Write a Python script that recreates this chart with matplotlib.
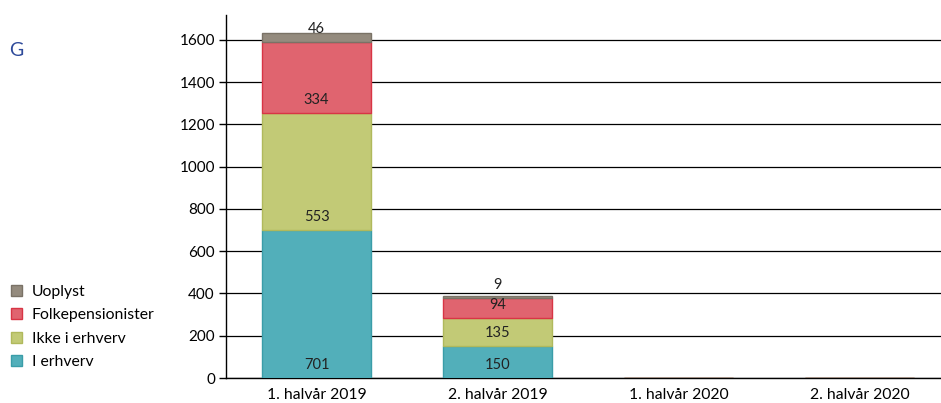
import matplotlib.pyplot as plt
from matplotlib.patches import Patch

plt.rcParams['font.family'] = ['Lato', 'DejaVu Sans']

categories = ["1. halvår 2019", "2. halvår 2019", "1. halvår 2020", "2. halvår 2020"]
i_erhverv = [701, 150, 0, 0]
ikke_i_erhverv = [553, 135, 0, 0]
folkepensionister = [334, 94, 0, 0]
uoplyst = [46, 9, 0, 0]

series = [
    ("I erhverv", i_erhverv, "#52AFBA", "#3A9DA8"),
    ("Ikke i erhverv", ikke_i_erhverv, "#C2CA76", "#B0B95C"),
    ("Folkepensionister", folkepensionister, "#E0646F", "#D83545"),
    ("Uoplyst", uoplyst, "#948B7E", "#7A7266"),
]

fig = plt.figure(figsize=(9.41, 4.03), dpi=100)
ax = fig.add_axes([226 / 941, 25 / 403, 1 - 226 / 941, 363 / 403])

x = range(len(categories))
bottom = [0] * len(categories)
for label, vals, color, edge in series:
    ax.bar(x, vals, width=0.6, bottom=bottom, color=color, edgecolor=edge,
           linewidth=1, zorder=3)
    for i, v in enumerate(vals):
        if v > 0:
            ax.annotate(str(v), (i, bottom[i]), xytext=(0, 9.5), textcoords="offset points",
                        ha="center", va="center", fontsize=10.5, color="#222222", zorder=4)
    bottom = [b + v for b, v in zip(bottom, vals)]

ax.set_xlim(-0.5, 3.45)
ax.set_ylim(0, 1718)
ax.set_yticks(range(0, 1601, 200))
ax.set_xticks(list(x))
ax.set_xticklabels(categories, fontsize=11.3)
ax.tick_params(axis="x", length=0, pad=7)
ax.tick_params(axis="y", length=5, width=1, labelsize=11, pad=3)
ax.yaxis.grid(True, color="black", linewidth=0.9, zorder=0)
for s in ["top", "right"]:
    ax.spines[s].set_visible(False)
ax.spines["left"].set_linewidth(1)
ax.spines["bottom"].set_linewidth(1)

handles = [Patch(facecolor=c, edgecolor=e, label=l) for l, _, c, e in reversed(series)]
fig.legend(handles=handles, loc="upper left", bbox_to_anchor=(-0.003, 0.328), frameon=False,
           fontsize=11.3, handlelength=0.7, handleheight=0.7, handletextpad=0.6,
           labelspacing=0.6)

fig.text(9 / 941, 1 - 50 / 403, "G", fontsize=14, color="#2E4A9A", va="center")

fig.savefig("out.png", dpi=100)
